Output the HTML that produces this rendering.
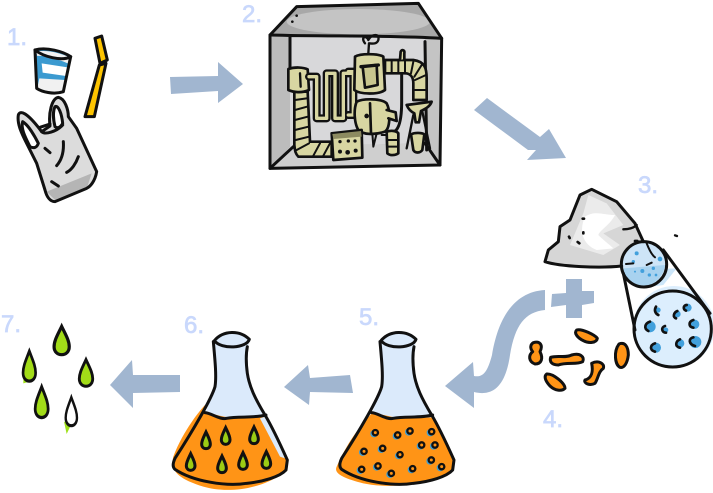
<!DOCTYPE html>
<html><head><meta charset="utf-8"><style>
html,body{margin:0;padding:0;background:#fff;width:713px;height:493px;overflow:hidden}
svg{display:block}
text{font-family:"Liberation Sans",sans-serif;font-size:24px;fill:#c9d8fc;stroke:#c9d8fc;stroke-width:.7}
.k{fill:none;stroke:#111;stroke-linecap:round;stroke-linejoin:round}
</style></head><body>
<svg width="713" height="493" viewBox="0 0 713 493" xmlns="http://www.w3.org/2000/svg">
<defs>
<path id="d" d="M0,-27C-7,-12-13,-2-13,9C-13,18-7,23 0,23C7,23 13,18 13,9C13,-2 7,-12 0,-27Z"/>
<g id="b"><circle cx="-4" cy="3" r="11" fill="#3d9fd6"/><circle r="8" fill="#ff9416" stroke="#111" stroke-width="7"/></g>
</defs>
<text x="7" y="45">1.</text><text x="242" y="22">2.</text><text x="638" y="193">3.</text><text x="543" y="427">4.</text><text x="359" y="325">5.</text><text x="184" y="333">6.</text><text x="1" y="332">7.</text>

<g fill="#a1b6d0">
<path d="M170,77L218,76L218,62L243,84L218,103L218,91L171,94Z"/>
<path d="M474,110L487,98L540,137L549,129L566,158L527,160L536,150L528,150Z"/>
<path d="M284,387L308,365L310,378L350,375L353,393L310,392L309,405Z"/>
<path d="M110,385L132,360L133,375L180,375L180,392L133,393L133,408Z"/>
<path d="M445,386L473,362L474,376C484,378 488,370 492,355C497,325 510,292 545,290L545,310C525,312 515,325 510,355C505,390 490,396 474,392L474,408Z"/>
<path d="M552,294L566,293L566,279L582,279L582,291L594,291L594,303L582,305L582,318L566,318L566,305L551,307Z"/>
</g>

<!-- 1 cup, straw, bag -->
<g transform="scale(.33333)">
<path d="M105,150C140,140 190,155 212,170L190,275C160,285 125,275 110,265Z" fill="#3b9ad0"/>
<path d="M108,155C140,148 185,160 208,172L203,190C170,175 130,165 112,168Z" fill="#f2f2f2"/>
<path d="M125,190L203,202L198,228L128,218Z" fill="#fff"/>
<path d="M118,235L195,240L190,275C160,282 125,275 112,265Z" fill="#f1f1f1"/>
<g class="k" stroke-width="9"><path d="M105,150C140,140 190,155 212,170C185,185 130,170 105,150Z"/><path d="M105,150L110,265C125,275 160,285 190,275L212,170"/></g>
<path d="M285,115L305,108L322,180L300,190Z" fill="#fdc400" stroke="#111" stroke-width="9" stroke-linejoin="round"/>
<path d="M318,190L283,350L255,350L298,195Z" fill="#fdc400" stroke="#111" stroke-width="9" stroke-linejoin="round"/>
<path d="M55,345C60,330 80,335 125,395L150,378C145,340 155,295 175,292C195,295 205,330 205,350L230,385L290,515C285,545 270,560 260,565L165,605C150,605 140,590 135,570L110,490L85,440C70,410 50,375 55,345Z" fill="#dcdcdc"/>
<path d="M140,575L275,520L262,560L165,600Z" fill="#b5b5b5"/>
<path d="M68,365C85,375 105,410 115,430C110,445 100,445 90,440C75,410 62,385 68,365ZM165,320C175,315 185,340 188,370C180,385 170,385 165,380C160,360 158,335 165,320Z" fill="#fff"/>
<g class="k" stroke-width="9">
<path d="M55,345C60,330 80,335 125,395L150,378C145,340 155,295 175,292C195,295 205,330 205,350L230,385L290,515C285,545 270,560 260,565L165,605C150,605 140,590 135,570L110,490L85,440C70,410 50,375 55,345Z"/>
<path d="M68,365C85,375 105,410 115,430C110,445 100,445 90,440C75,410 62,385 68,365Z"/>
<path d="M165,320C175,315 185,340 188,370C180,385 170,385 165,380C160,360 158,335 165,320Z"/>
<path d="M125,395C135,405 170,395 188,375M120,382L150,372M135,445L150,458M190,425C192,455 185,480 170,497M235,470C228,490 215,510 200,517M155,545L175,558"/>
</g>
</g>

<!-- 2 machine box -->
<g transform="translate(260,0) scale(.33333)">
<path d="M30,105L110,20L475,10L545,115L540,495L30,505Z" fill="#a8a8a8"/>
<ellipse cx="295" cy="65" rx="215" ry="38" fill="#c4c4c4"/>
<path d="M90,110L495,115L495,430L90,440Z" fill="#d8d8da"/>
<path d="M90,440L495,430L540,495L30,505Z" fill="#cfcfcf"/>
<path d="M30,105L90,110L90,440L30,505Z" fill="#bcbcbc"/>
<path d="M495,115L545,115L540,495L495,430Z" fill="#c4c4c4"/>
<g class="k" stroke-width="9">
<path d="M30,105L110,20L475,10L545,115L540,495L30,505Z"/>
<path d="M30,105C200,110 380,105 545,115M90,110L90,210M495,125L500,450M30,505L100,440M540,495L495,430"/>
</g>
<circle cx="110" cy="47" r="4" fill="#111"/><circle cx="97" cy="65" r="4" fill="#111"/>
<g transform="translate(75,105)">
<g fill="#d8d6a2" stroke="#111" stroke-width="8" stroke-linejoin="round" stroke-linecap="round">
<path d="M28,170L68,170L75,320L140,320L140,365L40,365C30,355 30,345 28,330Z"/>
<path d="M30,195L65,190M30,225L66,215M30,255L68,245M30,285L70,275M32,315L72,305M35,345L72,325M85,362L105,325M115,362L135,325" fill="none" stroke-width="6"/>
<path d="M10,102C30,95 55,97 68,103L72,165C50,175 25,172 10,165Z"/>
<path d="M45,115L47,155" fill="none" stroke-width="7"/>
<path d="M72,125L95,125L95,250L125,250L125,115L150,115L150,250L175,250L175,115L205,115L205,240L190,240M190,110L210,110" fill="none" stroke-width="24" stroke="#111"/>
<path d="M72,125L95,125L95,250L125,250L125,115L150,115L150,250L175,250L175,115L205,115L205,240L190,240M190,110L210,110" fill="none" stroke-width="10" stroke="#d8d6a2"/>
<path d="M210,65C225,55 280,55 295,65L300,165C280,180 225,178 208,165Z"/>
<path d="M233,95L275,90L278,150L240,158Z" fill="#c8c68e"/>
<path d="M228,95L280,90" fill="none" stroke-width="10"/>
<path d="M240,25C225,5 245,0 250,15C260,-5 285,-5 280,15C275,30 258,25 252,25L250,55" fill="none" stroke-width="7"/>
<path d="M300,75L385,75C420,80 425,100 425,130L425,195L385,195L385,145C385,125 375,115 360,115L300,115Z"/>
<path d="M320,78L320,112M340,78L340,112M360,78L360,112M385,80L378,115M410,90L388,125M423,120L390,135M388,165L423,165" fill="none" stroke-width="6"/>
<path d="M350,200L350,120M350,200C350,240 345,280 328,290" fill="none" stroke-width="9"/>
<path d="M345,75L347,50C350,42 360,45 358,55L358,72" fill="#d8d6a2"/>
<path d="M215,200C235,190 290,190 305,205C318,230 315,280 300,290C270,300 235,300 220,285C208,265 205,225 215,200Z"/>
<path d="M255,205L258,295" fill="none"/>
<path d="M305,225L332,232L335,258L310,250"/>
<circle cx="245" cy="243" r="7" fill="#111" stroke="none"/>
<path d="M262,295L265,335L275,295M290,300L305,300" fill="none" stroke-width="6"/>
<path d="M140,295L230,285L232,368L145,375Z"/>
<path d="M142,297L228,288L230,305L145,312Z" fill="#8c8a60" stroke="none"/>
<circle cx="165" cy="320" r="5" fill="#111" stroke="none"/><circle cx="190" cy="318" r="5" fill="#111" stroke="none"/><circle cx="210" cy="318" r="5" fill="#111" stroke="none"/><circle cx="165" cy="350" r="6" fill="#111" stroke="none"/><circle cx="188" cy="352" r="7" fill="#111" stroke="none"/><circle cx="212" cy="347" r="6" fill="#111" stroke="none"/>
<path d="M305,290C320,285 335,288 340,295L340,355C330,362 315,362 307,355Z"/>
<path d="M307,315L340,315M307,335L340,335" fill="none" stroke-width="6"/>
<path d="M365,210L440,200C435,215 420,222 408,228L402,262L392,262L388,235C378,230 370,222 365,210Z"/>
<path d="M385,240L365,340M412,230L435,340" fill="none" stroke-width="7"/>
<path d="M378,298C390,292 410,293 418,298L412,345C405,355 390,355 385,345Z"/>
</g>
</g>
</g>

<!-- 3 rock & magnifier -->
<g transform="translate(520,170) scale(.33333)">
<path d="M75,275L85,240L115,215L120,170L150,150L180,75L215,58L290,95L345,160L375,215L340,290L180,292Z" fill="#d6d6d6"/>
<path d="M205,75L260,100L310,165L250,190L300,225L250,255L150,225L190,130Z" fill="#ebebeb"/>
<path d="M195,140C225,120 250,135 285,135C270,165 240,180 235,195C255,215 270,225 280,235L230,240C190,225 175,185 195,140Z" fill="#fff"/>
<path d="M335,300L470,295L430,345L360,355Z" fill="#b7dcf6" opacity=".7"/>
<circle cx="372" cy="283" r="68" fill="#cde4f7"/>
<path d="M310,295L435,285C430,325 395,350 365,350C335,345 315,325 310,295Z" fill="#a8d2ef"/>
<circle cx="462" cy="470" r="122" fill="#dceefd"/>
<g fill="#42a0dc">
<circle cx="350" cy="250" r="6"/><circle cx="420" cy="267" r="7"/><circle cx="340" cy="275" r="5"/><circle cx="367" cy="303" r="6"/><circle cx="400" cy="295" r="5"/><circle cx="388" cy="315" r="5"/><circle cx="345" cy="305" r="3"/><circle cx="408" cy="315" r="4"/>
<circle cx="414" cy="420" r="8"/><circle cx="503" cy="413" r="12"/><circle cx="472" cy="432" r="10"/><circle cx="390" cy="470" r="17"/><circle cx="524" cy="463" r="14"/><circle cx="437" cy="480" r="8"/><circle cx="408" cy="533" r="15"/><circle cx="480" cy="520" r="13"/><circle cx="526" cy="516" r="18"/>
</g>
<g fill="#ff9416" stroke="#111" stroke-width="9" stroke-linejoin="round">
<path d="M170,480C185,475 225,495 232,505C230,520 205,520 190,512C175,505 160,490 170,480Z"/>
<path d="M40,518C60,512 70,525 60,545C70,565 65,582 45,582C25,575 25,555 38,545C30,535 30,525 40,518Z"/>
<path d="M92,562C115,555 135,565 155,555C180,548 195,560 188,575C170,585 140,575 115,585C95,585 88,575 92,562Z"/>
<path d="M297,522C315,515 325,530 325,555C322,580 312,595 300,592C285,585 280,545 297,522Z"/>
<path d="M215,580C235,570 255,580 250,595C235,605 235,625 225,640C210,648 190,640 195,630C215,625 220,605 215,580Z"/>
<path d="M80,612C100,610 135,640 135,655C125,665 105,662 90,648C78,635 70,620 80,612Z"/>
</g>
<g class="k" stroke-width="9">
<path d="M75,275L85,240L115,215L120,170L150,150L180,75L215,58L290,95L345,160L370,215M75,275C120,290 240,295 305,288"/>
<path d="M310,178C325,178 340,175 350,165" stroke-width="7"/>
<path d="M380,220C388,240 395,255 405,262M318,282L340,280M380,285L395,278" stroke-width="6"/>
<circle cx="372" cy="283" r="68"/>
<ellipse cx="458" cy="477" rx="116" ry="114"/>
<path d="M310,310L345,480M430,240L570,430"/>
<path d="M465,196L471,198" stroke-width="7"/>
<path d="M188,146L192,146M190,187L190,190M147,200L149,204M173,216L178,220M345,213L352,213" stroke-width="8"/>
<path d="M408,410C402,420 405,430 415,435M500,405C490,405 488,418 498,422M472,423C460,428 458,442 468,445M390,455C375,460 370,475 385,483M520,450C505,455 505,470 520,473M435,468C422,472 425,488 438,488M405,520C390,525 388,540 405,545M480,508C465,515 465,530 480,533M520,502C505,505 505,522 525,528" stroke-width="8"/>
</g>
</g>

<!-- flasks -->
<g transform="translate(160,310) scale(.33333)">
<path d="M163,92C190,60 240,60 268,88L258,160L275,240L320,315L380,450L370,490L240,525L110,510L40,470L40,450L140,300L165,230Z" fill="#dbeafb"/>
<path d="M135,285C125,295 70,360 40,440C30,480 50,505 130,530C180,545 280,550 370,490L382,460L320,318C280,325 260,320 230,322C190,325 170,310 135,310Z" fill="#ff9416"/>
<path d="M300,325L320,318L375,445L360,440Z" fill="#dbeafb"/>
<g class="k" stroke-width="9">
<path d="M163,92C190,60 240,60 268,88C260,115 185,120 163,92Z"/>
<path d="M160,95C165,150 170,200 165,230C155,265 100,360 45,445C38,460 38,472 45,478C100,515 200,530 260,520C310,515 360,500 378,480L382,450C355,390 330,340 315,315C285,265 268,230 262,190C258,160 258,130 262,110"/>
<path d="M135,308C155,310 180,330 200,325C235,318 280,325 318,315"/>
</g>
<g fill="#9ccc14" stroke="#111" stroke-width="9">
<use href="#d" x="138" y="393"/><use href="#d" x="197" y="380"/><use href="#d" x="282" y="378"/><use href="#d" x="92" y="458"/><use href="#d" x="186" y="465"/><use href="#d" x="249" y="455"/><use href="#d" x="319" y="452"/>
</g>
<g transform="translate(500,0)">
<path d="M163,92C190,60 240,60 268,88L258,160L275,240L320,315L380,450L370,490L240,525L110,510L40,470L40,450L140,300L165,230Z" fill="#dbeafb"/>
<path d="M135,310C110,340 70,380 30,470C20,490 50,505 110,520C180,535 300,530 378,485L382,450L320,322C280,325 260,320 230,322C190,325 170,310 135,310Z" fill="#ff9416"/>
<g class="k" stroke-width="9">
<path d="M163,92C190,60 240,60 268,88C260,115 185,120 163,92Z"/>
<path d="M160,95C165,150 170,200 165,230C155,265 100,360 45,445C38,460 38,472 45,478C100,515 200,530 260,520C310,515 360,500 378,480L382,450C355,390 330,340 315,315C285,265 268,230 262,190C258,160 258,130 262,110"/>
<path d="M135,308C155,310 180,330 200,325C235,318 280,325 318,315"/>
</g>
<use href="#b" x="146" y="368"/><use href="#b" x="213" y="375"/><use href="#b" x="250" y="363"/><use href="#b" x="315" y="365"/><use href="#b" x="285" y="405"/><use href="#b" x="325" y="405"/><use href="#b" x="168" y="415"/><use href="#b" x="112" y="424"/><use href="#b" x="220" y="434"/><use href="#b" x="314" y="450"/><use href="#b" x="345" y="470"/><use href="#b" x="105" y="478"/><use href="#b" x="154" y="468"/><use href="#b" x="194" y="490"/><use href="#b" x="258" y="476"/>
</g>
</g>

<!-- 7 drops -->
<g transform="translate(0,300) scale(.33333)">
<path d="M70,200L100,215L105,240L70,250Z" fill="#9ee01a"/>
<path d="M192,365L215,370L200,402Z" fill="#9ee01a"/>
<g fill="#a2dc18" stroke="#111">
<use href="#d" transform="translate(185,125) scale(1.75,1.7)" stroke-width="5.5"/>
<use href="#d" transform="translate(88,202) scale(1.45,1.8)" stroke-width="5.5"/>
<use href="#d" transform="translate(258,222) scale(1.55,1.6)" stroke-width="5.5"/>
<use href="#d" transform="translate(125,310) scale(1.5,1.85)" stroke-width="5.5"/>
<use href="#d" transform="translate(214,338) scale(1.3,1.7)" fill="#fff" stroke-width="5.5"/>
</g>
</g>
</svg>
</body></html>
